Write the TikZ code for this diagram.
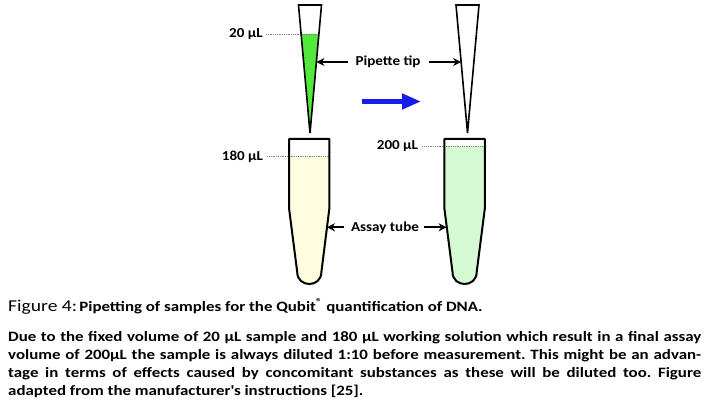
\documentclass[tikz,border=0pt]{standalone}
\usepackage{fontspec}
\setmainfont{Carlito}
\newfontfamily\capfont{Carlito}[FakeStretch=1.18]
\newfontfamily\lblfont{Carlito}[FakeStretch=1.1]
\usetikzlibrary{arrows.meta,calc}
\definecolor{tipgreen}{RGB}{82,232,60}
\definecolor{tubeyellow}{RGB}{255,253,224}
\definecolor{tubegreen}{RGB}{213,249,210}
\definecolor{arrowblue}{RGB}{20,30,232}
\newcommand\tubeLpath{(289,139) -- (289,208) -- (297.2,272) .. controls (297.2,288) and (321.4,288) .. (321.4,272) -- (329.4,208) -- (329.4,139) -- cycle}
\newcommand\tubeRpath{(444.3,139) -- (444.3,208) -- (452.5,272) .. controls (452.5,288) and (476.7,288) .. (476.7,272) -- (484.9,208) -- (484.9,139) -- cycle}
\frenchspacing
\begin{document}
\begin{tikzpicture}[x=1pt,y=-1pt,
  outline/.style={draw=black, line width=2pt, line join=round},
  tipline/.style={draw=black, line width=1.6pt, line join=miter},
  lbl/.style={font=\lblfont\bfseries\fontsize{13.7}{16}\selectfont, inner sep=0pt},
  level/.style={densely dotted, black!50, line width=0.8pt},
  pointer/.style={-{Stealth[length=8pt,width=8pt]}, line width=2pt},
  bigarrow/.style={-{Triangle[length=19pt,width=15pt]}, line width=4.5pt, arrowblue},
  captxt/.style={anchor=base west, inner sep=0pt, font=\capfont\bfseries\fontsize{14.3}{17}\selectfont},
]
\useasboundingbox (0,0) rectangle (708,411);

% ---- pipette tips ----
\coordinate (lt-tl) at (298.5,5);
\coordinate (lt-tr) at (321.5,5);
\coordinate (lt-p)  at (310,133);
\coordinate (rt-tl) at (456,5);
\coordinate (rt-tr) at (479,5);
\coordinate (rt-p)  at (467.5,133);
\coordinate (lt-e) at ($(lt-tr)!57/128!(lt-p)$);
\coordinate (rt-e) at ($(rt-tl)!57/128!(rt-p)$);

\fill[tipgreen] ($(lt-tl)!29/128!(lt-p)$) -- ($(lt-tr)!29/128!(lt-p)$) -- (lt-p) -- cycle;

\node[lbl] (v20) at (246,34) {20 µL};
\draw[level] ([xshift=3pt]v20.east) -- ($(lt-tr)!29/128!(lt-p)$);

\draw[tipline] (lt-tl) -- (lt-tr) -- (lt-p) -- cycle;
\draw[tipline] (rt-tl) -- (rt-tr) -- (rt-p) -- cycle;

\node[lbl] (ptip) at (388,62) {Pipette tip};
\draw[pointer] ([xshift=-7pt]ptip.west) -- (lt-e);
\draw[pointer] ([xshift=8pt]ptip.east) -- (rt-e);

% ---- blue arrow ----
\coordinate (b1) at (362,101.5);
\coordinate (b2) at (421,101.5);
\draw[bigarrow] (b1) -- (b2);

% ---- tubes ----
\begin{scope}
  \clip \tubeLpath;
  \fill[tubeyellow] (280,156.5) rectangle (340,300);
\end{scope}
\begin{scope}
  \clip \tubeRpath;
  \fill[tubegreen] (435,146) rectangle (495,300);
\end{scope}

\node[lbl] (v180) at (242.5,156.5) {180 µL};
\draw[level] ([xshift=4pt]v180.east) -- (329.4,156.5);
\node[lbl] (v200) at (397.5,146) {200 µL};
\draw[level] ([xshift=4pt]v200.east) -- (484.9,146);

\draw[outline] \tubeLpath;
\draw[outline] \tubeRpath;

\coordinate (lb-e) at (326.9,227.3);
\coordinate (rb-e) at (446.6,227.3);
\node[lbl] (atube) at (385,227.3) {Assay tube};
\draw[pointer] ([xshift=-7pt]atube.west) -- (lb-e);
\draw[pointer] ([xshift=5pt]atube.east) -- (rb-e);

% ---- caption ----
\node[anchor=base west, inner sep=0pt] (cap) at (8,311)
  {{\capfont\fontsize{16.6}{20}\selectfont Figure 4:} {\capfont\bfseries\fontsize{14.3}{17}\selectfont Pipetting of samples for the Qubit\textsuperscript{®} quantification of DNA.}};
\node[captxt] (l1) at (8,341.5) {\makebox[693pt][s]{Due to the fixed volume of 20 µL sample and 180 µL working solution which result in a final assay}};
\node[captxt] (l2) at (8,359.5) {\makebox[693pt][s]{volume of 200µL the sample is always diluted 1:10 before measurement. This might be an advan-}};
\node[captxt] (l3) at (8,377.5) {\makebox[693pt][s]{tage in terms of effects caused by concomitant substances as these will be diluted too. Figure}};
\node[captxt] (l4) at (8,395.5) {adapted from the manufacturer\textquotesingle s instructions [25].};
\end{tikzpicture}
\end{document}
